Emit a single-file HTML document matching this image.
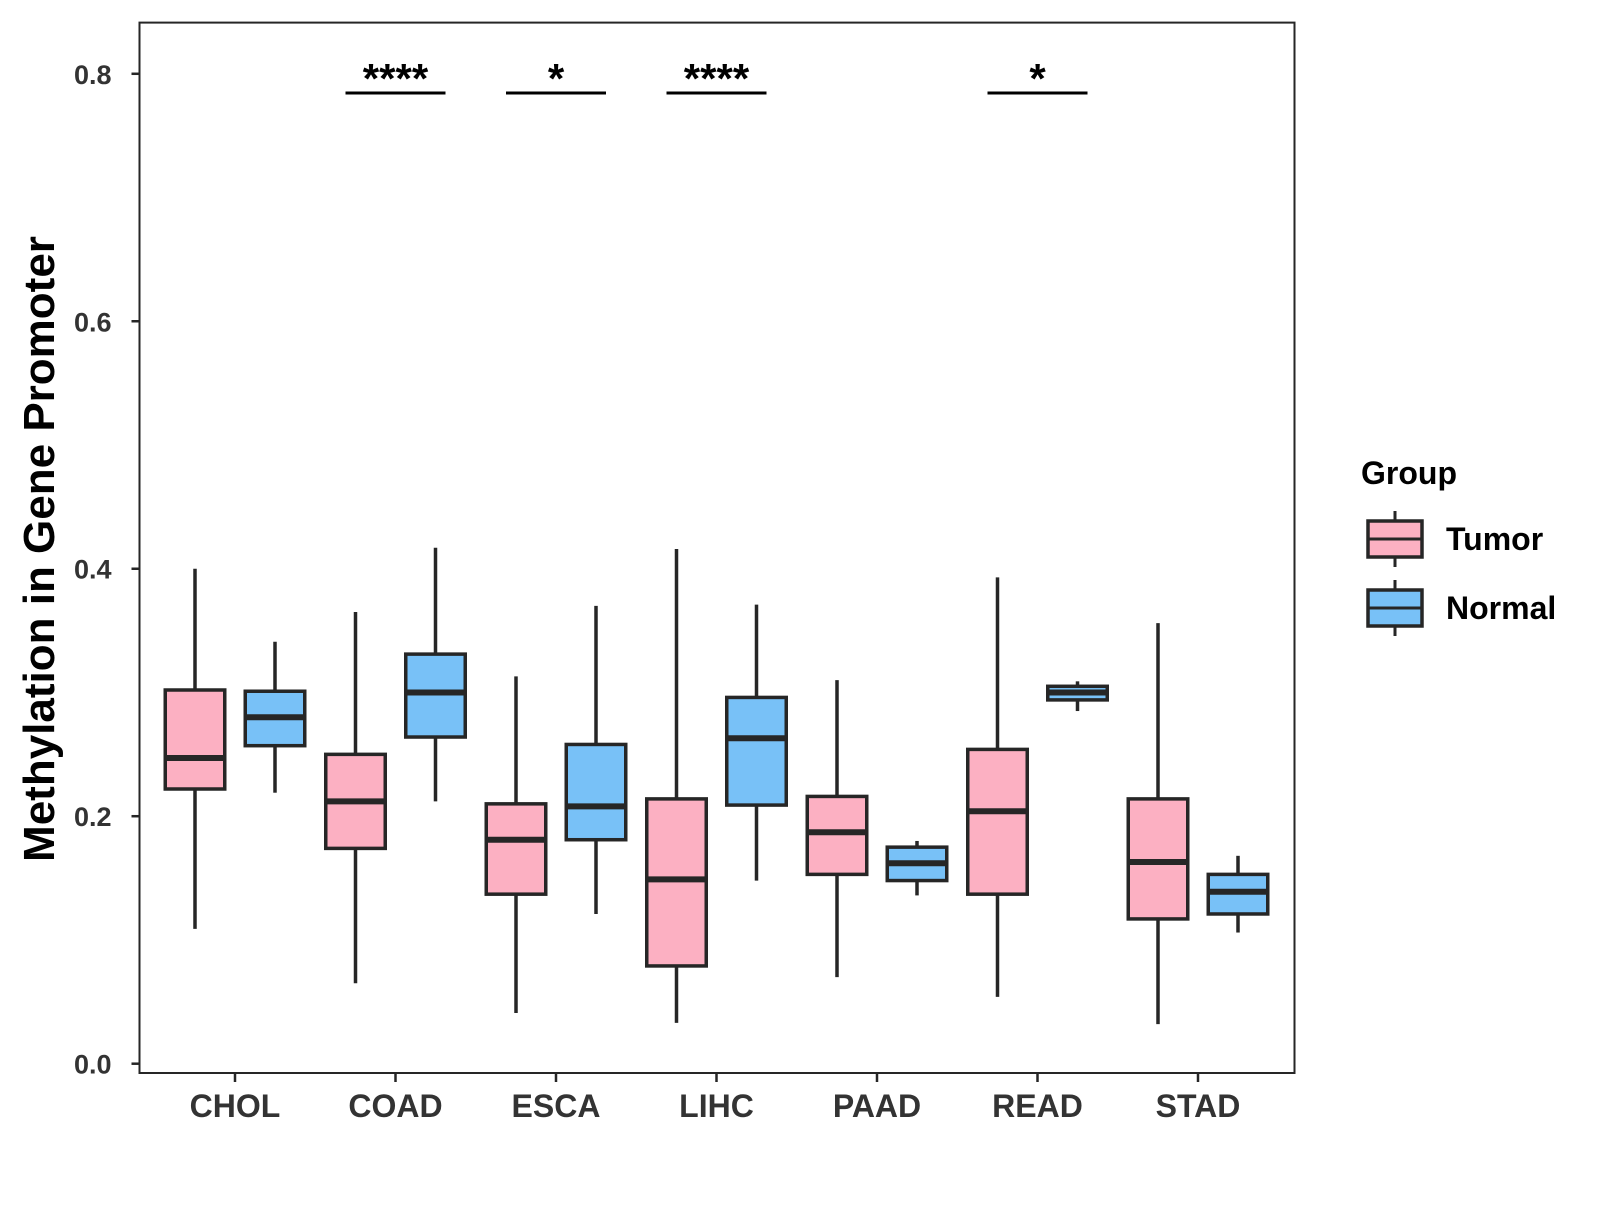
<!DOCTYPE html>
<html><head><meta charset="utf-8"><style>
html,body{margin:0;padding:0;background:#fff;}
svg text{font-family:"Liberation Sans",Arial,sans-serif;font-weight:bold;}
</style></head><body>
<svg id="chart" width="1600" height="1200" xmlns="http://www.w3.org/2000/svg"></svg>
<script>
const categories = ["CHOL","COAD","ESCA","LIHC","PAAD","READ","STAD"];
// [low whisker, q1, median, q3, high whisker]
const tumorStats = [
  [0.109,0.222,0.247,0.302,0.400],
  [0.065,0.174,0.212,0.250,0.365],
  [0.041,0.137,0.181,0.210,0.313],
  [0.033,0.079,0.149,0.214,0.416],
  [0.070,0.153,0.187,0.216,0.310],
  [0.054,0.137,0.204,0.254,0.393],
  [0.032,0.117,0.163,0.214,0.356]
];
const normalStats = [
  [0.219,0.257,0.280,0.301,0.341],
  [0.212,0.264,0.300,0.331,0.417],
  [0.121,0.181,0.208,0.258,0.370],
  [0.148,0.209,0.263,0.296,0.371],
  [0.136,0.148,0.162,0.175,0.180],
  [0.285,0.294,0.300,0.305,0.309],
  [0.106,0.121,0.139,0.153,0.168]
];
const sigLabels = ["","****","*","****","","*",""];
const yTicks = [0.0,0.2,0.4,0.6,0.8];
const yTickLabels = ["0.0","0.2","0.4","0.6","0.8"];

const svg = document.getElementById('chart');
const NS = "http://www.w3.org/2000/svg";
const L=139.5,R=1294.5,T=22.6,B=1073;
function y(v){return 1063.7 - v*1237.4;}
function x(i){return 235 + i*160.5;}
function mk(tag,attrs,parent){const e=document.createElementNS(NS,tag);for(const k in attrs)e.setAttribute(k,attrs[k]);(parent||svg).appendChild(e);return e;}
const ink="#262626";

const panel=mk('rect',{x:L,y:T,width:R-L,height:B-T,fill:'#fff',stroke:ink,'stroke-width':2});



yTicks.forEach((v,i)=>{
  const t=mk('line',{x1:L-8,x2:L,y1:y(v),y2:y(v),stroke:ink,'stroke-width':2.5});
  
  
  const tx=mk('text',{x:L-28,y:y(v)+10,'text-anchor':'end','font-size':27,fill:'#333'});
  tx.textContent=yTickLabels[i];
  
  
});
categories.forEach((c,i)=>{
  const t=mk('line',{x1:x(i),x2:x(i),y1:B,y2:B+9,stroke:ink,'stroke-width':2.5});
  
  
  const tx=mk('text',{x:x(i),y:1117,'text-anchor':'middle','font-size':32,fill:'#333'});
  tx.textContent=c;
  
  
});

function box(cx,s,fill,name){
  const g=mk('g',{});
  
  
  const w=59.5;
  mk('line',{x1:cx,x2:cx,y1:y(s[4]),y2:y(s[3]),stroke:ink,'stroke-width':3.5},g);
  mk('line',{x1:cx,x2:cx,y1:y(s[1]),y2:y(s[0]),stroke:ink,'stroke-width':3.5},g);
  mk('rect',{x:cx-w/2,y:y(s[3]),width:w,height:y(s[1])-y(s[3]),fill:fill,stroke:ink,'stroke-width':3.5},g);
  mk('line',{x1:cx-w/2,x2:cx+w/2,y1:y(s[2]),y2:y(s[2]),stroke:ink,'stroke-width':6},g);
}
categories.forEach((c,i)=>{
  box(x(i)-40,tumorStats[i],'#FCB0C2','box-tumor-'+c.toLowerCase());
  box(x(i)+40,normalStats[i],'#78C1F7','box-normal-'+c.toLowerCase());
  if(sigLabels[i]){
    const l=mk('line',{x1:x(i)-50,x2:x(i)+50,y1:93,y2:93,stroke:'#000','stroke-width':3});
    
    
    const t=mk('text',{x:x(i),y:93,'text-anchor':'middle','font-size':42,fill:'#000'});
    t.textContent=sigLabels[i];
    
    
  }
});

const yt=mk('text',{x:0,y:0,'text-anchor':'middle','font-size':44,fill:'#000',transform:'translate(54,549) rotate(-90)'});
yt.textContent='Methylation in Gene Promoter';



const lg=mk('g',{});


const lt=mk('text',{x:1361,y:484,'font-size':32,fill:'#000'},lg);
lt.textContent='Group';


[["Tumor",'#FCB0C2',539],["Normal",'#78C1F7',608]].forEach(([lab,col,cy])=>{
  const e=mk('g',{},lg);
  
  
  mk('line',{x1:1395,x2:1395,y1:cy-28,y2:cy+28,stroke:ink,'stroke-width':3},e);
  mk('rect',{x:1368,y:cy-18,width:54,height:36,fill:col,stroke:ink,'stroke-width':3.5},e);
  mk('line',{x1:1368,x2:1422,y1:cy,y2:cy,stroke:ink,'stroke-width':3},e);
  const t=mk('text',{x:1446,y:cy+11,'font-size':32,fill:'#000'},e);
  t.textContent=lab;
});
</script>
</body></html>
